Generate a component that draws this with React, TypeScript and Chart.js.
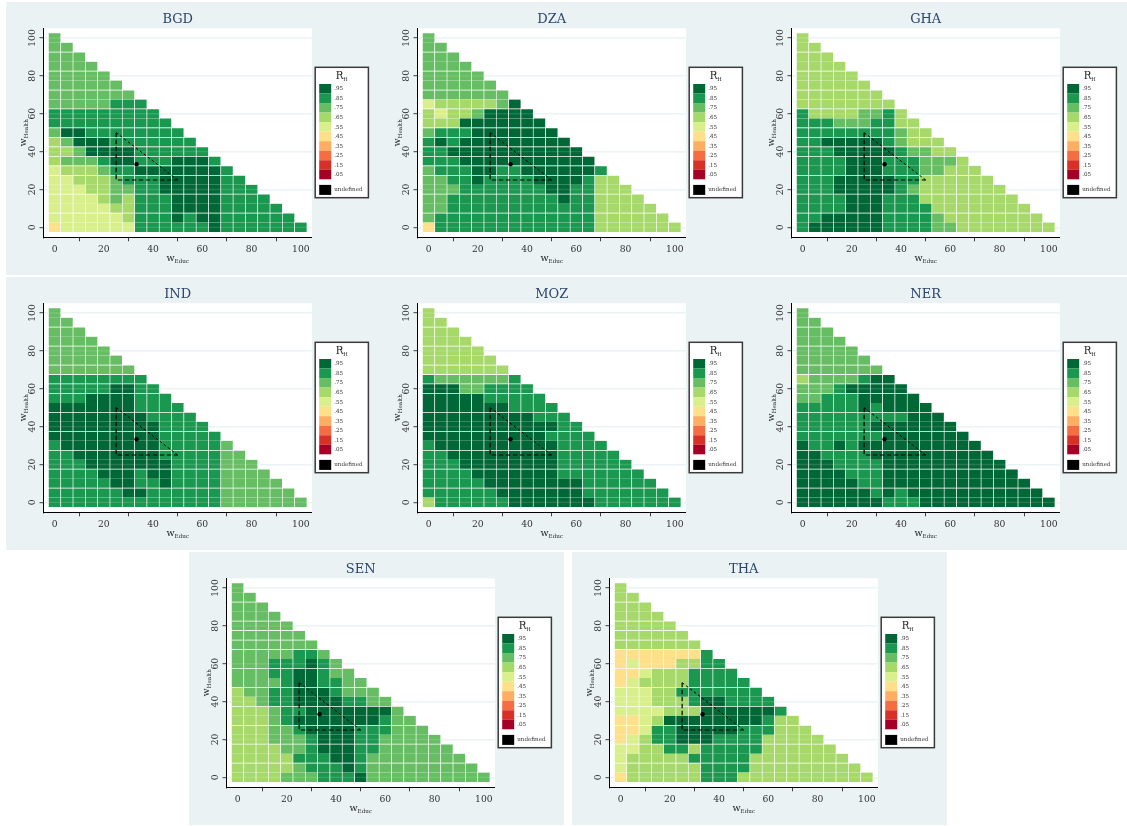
import { useEffect, useRef } from "react";
import { Chart, registerables } from "chart.js";
Chart.register(...registerables);

const SERIF = "'DejaVu Serif', serif";
const tickValues = [0, 20, 40, 60, 80, 100];
const healthWeights = [100, 95, 90, 85, 80, 75, 70, 65, 60, 55, 50, 45, 40, 35, 30, 25, 20, 15, 10, 5, 0];
const educWeights = [0, 5, 10, 15, 20, 25, 30, 35, 40, 45, 50, 55, 60, 65, 70, 75, 80, 85, 90, 95, 100];
const legendLabels = [".95", ".85", ".75", ".65", ".55", ".45", ".35", ".25", ".15", ".05"];
// class digit d means R_H in the bin labelled .d5
const levelColors = ["#a50026", "#d73027", "#f46d43", "#fdae61", "#fee08b", "#d9ef8b", "#a6d96a", "#66bd63", "#1a9850", "#006837"];
const triangleSides = [{ x: 25, y: 50 }, { x: 25, y: 25 }, { x: 50, y: 25 }];
const triangleHypotenuse = [{ x: 25, y: 50 }, { x: 50, y: 25 }];
const equalWeights = [{ x: 33.3, y: 33.3 }];

const BGD = ["7", "77", "777", "7777", "77777", "777777", "7777777", "77777888", "888888888", "8888888888", "79988888888", "679998888888", "6679999888888", "67778998889998", "566678899999998", "5566678889999988", "55566778899999888", "555567688899998888", "5555566888999988888", "55555568889899888888", "455555588888898888888"];
const DZA = ["7", "77", "777", "7777", "77777", "777777", "7777777", "56666679", "656679999", "6669999999", "78889999999", "898999999999", "8899999999999", "88899999999999", "788899889999998", "7788988889999866", "77788888889988666", "778888888889886666", "7788888888888866666", "78888888888888666666", "488888888888886666666"];
const GHA = ["6", "66", "666", "6666", "66666", "666666", "6666666", "66666666", "866667786", "8887778866", "88888888766", "889999987666", "8889999987766", "88889998887776", "888899988877666", "8889999988666666", "88899999876666666", "888899988866666666", "8888999888866666666", "88999998888766666666", "899999988887766666666"];
const IND = ["7", "77", "777", "7777", "77777", "777777", "7777777", "88888888", "888889988", "8889999888", "99999998888", "999999998888", "9999999998888", "99999999988888", "899999999888887", "8899999998888877", "88899999998888777", "888899989988887777", "8888899889888877777", "88888899888888777777", "888888888888887777777"];
const MOZ = ["6", "66", "666", "6666", "66666", "666666", "6666666", "87777778", "999778888", "9999988888", "99999998888", "999999999888", "9999999999988", "99999999998888", "899999999998888", "8899999999988888", "88899999999888888", "888899999998888888", "8888899999999888888", "88888899999998888888", "688888899999998888888"];
const NER = ["7", "77", "777", "7777", "77777", "777777", "7777777", "67777899", "777899999", "7788899999", "88888989999", "888888888999", "8888889999999", "88888889999999", "988989999999999", "9988889999999999", "99988889999999999", "999988899999999999", "9999988999999999999", "99999989899999999999", "999999988899999999999"];
const SEN = ["7", "77", "777", "7777", "77777", "777777", "7777777", "77777887", "777888987", "7778899877", "77778998877", "677889998777", "6678899998877", "66678899999997", "666789999999877", "6667789999888777", "66677789998877777", "666677899988777777", "6666688899877777777", "66666788898777777777", "666677788897777777777"];
const THA = ["6", "66", "666", "6666", "66666", "666666", "6666666", "44444448", "454446688", "4456668888", "45666688888", "555668888888", "5556668998888", "55556669999998", "445699999999866", "4458899999888666", "45688999888866666", "556688688888666666", "5666668888866666666", "56666668888666666666", "466666688866666666666"];

const breaksA = [92.5, 82.5, 72.5, 62.5, 52.5, 47.5, 42.5, 37.5, 32.5, 27.5, 17.5, 7.5];
const breaksB = [92.5, 82.5, 72.5, 62.5, 52.5, 47.5, 42.5, 37.5, 27.5, 17.5, 7.5];
const breaksC = [92.5, 82.5, 72.5, 67.5, 62.5, 57.5, 47.5, 37.5, 27.5, 17.5, 7.5];
const breaksD = [92.5, 82.5, 77.5, 72.5, 67.5, 57.5, 47.5, 37.5, 27.5, 17.5, 7.5];

const panels = [
  { name: "BGD", rows: BGD, breaks: breaksA, left: 6, top: 2 },
  { name: "DZA", rows: DZA, breaks: breaksA, left: 380, top: 2 },
  { name: "GHA", rows: GHA, breaks: breaksB, left: 754, top: 2 },
  { name: "IND", rows: IND, breaks: breaksC, left: 6, top: 277 },
  { name: "MOZ", rows: MOZ, breaks: breaksC, left: 380, top: 277 },
  { name: "NER", rows: NER, breaks: breaksC, left: 754, top: 277 },
  { name: "SEN", rows: SEN, breaks: breaksD, left: 189, top: 552 },
  { name: "THA", rows: THA, breaks: breaksD, left: 572, top: 552 },
];

const PANEL_W = 375;
const PANEL_H = 273;
const PLOT_L = 37.5;
const PLOT_R = 305.9;
const PLOT_T = 26.3;
const PLOT_B = 235.3;

function subscripted(ctx: CanvasRenderingContext2D, main: string, sub: string, cx: number, cy: number, rot: number, mainSize: number, subSize: number, color: string) {
  ctx.save();
  ctx.translate(cx, cy);
  ctx.rotate(rot);
  ctx.fillStyle = color;
  ctx.textBaseline = "alphabetic";
  ctx.textAlign = "left";
  ctx.font = `${mainSize}px ${SERIF}`;
  const mw = ctx.measureText(main).width;
  ctx.font = `${subSize}px ${SERIF}`;
  const sw = ctx.measureText(sub).width;
  const x0 = -(mw + sw) / 2;
  ctx.font = `${mainSize}px ${SERIF}`;
  ctx.fillText(main, x0, mainSize * 0.35);
  ctx.font = `${subSize}px ${SERIF}`;
  ctx.fillText(sub, x0 + mw, mainSize * 0.35 + subSize * 0.4);
  ctx.restore();
}

const frame = {
  id: "frame",
  beforeDraw(chart: any) {
    const { ctx, chartArea: a } = chart;
    ctx.save();
    ctx.fillStyle = "#ffffff";
    ctx.fillRect(a.left, a.top, a.right - a.left, a.bottom - a.top);
    ctx.restore();
  },
  afterDatasetDraw(chart: any, args: any) {
    if (args.index !== 0) return;
    const { ctx, chartArea: a, scales } = chart;
    ctx.save();
    ctx.strokeStyle = "rgba(255,255,255,0.13)";
    ctx.lineWidth = 1.4;
    for (const t of tickValues) {
      const y = scales.y.getPixelForValue(t);
      ctx.beginPath();
      ctx.moveTo(a.left, y);
      ctx.lineTo(a.right, y);
      ctx.stroke();
    }
    ctx.restore();
  },
  afterDraw(chart: any) {
    const { ctx, chartArea: a } = chart;
    subscripted(ctx, "w", "Educ", (a.left + a.right) / 2, 255.8, 0, 9.5, 5.6, "#222");
    subscripted(ctx, "w", "Health", 16.7, (a.top + a.bottom) / 2, -Math.PI / 2, 9.5, 5.6, "#222");

    const lx = 309.2, ly = 65.3, lw = 53.2, lh = 130.4;
    ctx.save();
    ctx.fillStyle = "#ffffff";
    ctx.fillRect(lx, ly, lw, lh);
    ctx.strokeStyle = "#3a3a3a";
    ctx.lineWidth = 1.5;
    ctx.strokeRect(lx, ly, lw, lh);
    const swX = lx + 4, swW = 12, rowH = 9.53, top = ly + 16.7;
    legendLabels.forEach((lab, i) => {
      ctx.fillStyle = levelColors[9 - i];
      ctx.fillRect(swX, top + i * rowH, swW, rowH);
      ctx.fillStyle = "#333";
      ctx.font = `5.6px ${SERIF}`;
      ctx.textBaseline = "middle";
      ctx.textAlign = "left";
      ctx.fillText(lab, swX + 15, top + i * rowH + rowH / 2 + 0.2);
    });
    ctx.fillStyle = "#000";
    ctx.fillRect(swX, ly + 117.6, swW, 10);
    ctx.fillStyle = "#333";
    ctx.font = `5.6px ${SERIF}`;
    ctx.textBaseline = "middle";
    ctx.fillText("undefined", swX + 15, ly + 122.6);
    ctx.restore();
    subscripted(ctx, "R", "H", lx + lw / 2, ly + 8.3, 0, 10.2, 5.2, "#222");
  },
};

function Panel({ spec }: { spec: (typeof panels)[number] }) {
  const ref = useRef<HTMLCanvasElement | null>(null);
  useEffect(() => {
    const cells: any[] = [];
    spec.rows.forEach((row, r) => {
      const y = healthWeights[r];
      row.split("").forEach((d, c) => {
        cells.push({ x: educWeights[c], y: [y - 2.5, y + 2.5], level: Number(d) });
      });
    });
    const isBreak = (v: number) => spec.breaks.includes(v);
    const chart = new Chart(ref.current as HTMLCanvasElement, {
      type: "bar",
      data: {
        datasets: [
          {
            data: cells,
            order: 3,
            grouped: false,
            barPercentage: 1,
            categoryPercentage: 1,
            borderSkipped: false,
            borderColor: "#ffffff",
            backgroundColor: (ctx: any) => levelColors[ctx.raw.level],
            borderWidth: (ctx: any) => ({
              left: 0.65,
              right: 0.65,
              top: isBreak(ctx.raw.y[1]) ? 0.7 : 0,
              bottom: isBreak(ctx.raw.y[0]) ? 0.7 : 0,
            }),
          } as any,
          { type: "scatter", data: triangleSides, order: 2, showLine: true, borderColor: "#000", borderWidth: 1.2, borderDash: [4.5, 2.5], pointRadius: 0 } as any,
          { type: "scatter", data: triangleHypotenuse, order: 1, showLine: true, borderColor: "#000", borderWidth: 1, borderDash: [2.6, 2.4], pointRadius: 0 } as any,
          { type: "scatter", data: equalWeights, order: 0, pointRadius: 2.2, pointBackgroundColor: "#000", pointBorderWidth: 0 } as any,
        ],
      },
      options: {
        responsive: false,
        animation: false,
        devicePixelRatio: 1,
        layout: { padding: { left: 0, right: PANEL_W - PLOT_R, top: 0, bottom: 0 } },
        plugins: {
          legend: { display: false },
          tooltip: { enabled: false },
          title: {
            display: true,
            text: spec.name,
            color: "#2b4470",
            fullSize: false,
            font: { family: SERIF, size: 13, weight: "normal", lineHeight: 1 },
            padding: { top: 11, bottom: PLOT_T - 24 },
          },
        },
        scales: {
          x: {
            type: "linear",
            offset: false,
            min: -4.5,
            max: 104.5,
            afterBuildTicks: (s: any) => { s.ticks = tickValues.map((value) => ({ value })); },
            afterFit: (s: any) => { s.height = PANEL_H - PLOT_B; },
            ticks: { autoSkip: false, maxRotation: 0, color: "#333", padding: 3, font: { family: SERIF, size: 9.2 } },
            grid: { drawOnChartArea: false, tickLength: 4, tickColor: "#111", tickWidth: 0.8 },
            border: { color: "#000", width: 1 },
          },
          y: {
            type: "linear",
            min: -5.25,
            max: 105.1,
            afterBuildTicks: (s: any) => { s.ticks = tickValues.map((value) => ({ value })); },
            afterFit: (s: any) => { s.width = PLOT_L; },
            ticks: { autoSkip: false, minRotation: 90, maxRotation: 90, crossAlign: "center", color: "#333", padding: -2, font: { family: SERIF, size: 9.2 } },
            grid: { color: "#eaf2f3", lineWidth: 1.4, tickLength: 4, tickColor: "#111", tickWidth: 0.8 },
            border: { color: "#000", width: 1 },
          },
        },
      } as any,
      plugins: [frame],
    });
    return () => chart.destroy();
  }, [spec]);
  return (
    <div style={{ position: "absolute", left: spec.left, top: spec.top, width: PANEL_W, height: PANEL_H, background: "#eaf2f3" }}>
      <canvas ref={ref} width={PANEL_W} height={PANEL_H} style={{ display: "block", width: PANEL_W, height: PANEL_H }} />
    </div>
  );
}

export default function App() {
  return (
    <div style={{ position: "absolute", left: 0, top: 0, width: 1127, height: 826, overflow: "hidden", background: "#fff" }}>
      {panels.map((p) => <Panel key={p.name} spec={p} />)}
    </div>
  );
}
